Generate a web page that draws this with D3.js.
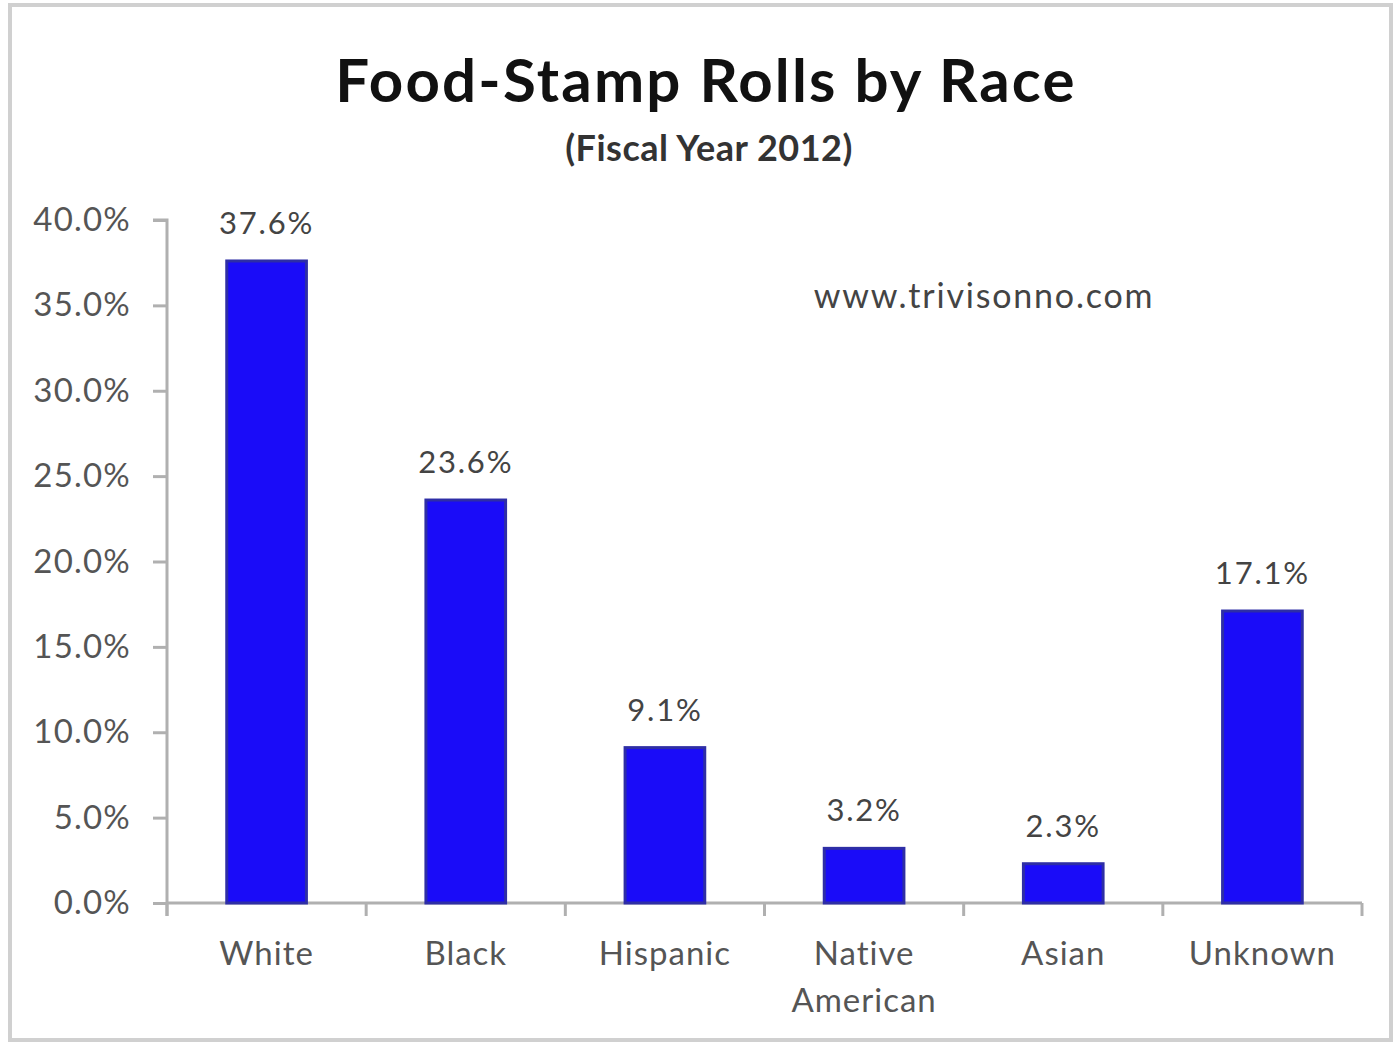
<!DOCTYPE html>
<html>
<head>
<meta charset="utf-8">
<script src="https://cdn.jsdelivr.net/npm/d3@7"></script>
<style>
  html, body { margin: 0; padding: 0; background: #fff; }
  svg { display: block; font-family: Lato, 'Open Sans', sans-serif; }
</style>
</head>
<body>
<div id="chart"></div>
<script>
const categories = ['White', 'Black', 'Hispanic', 'Native American', 'Asian', 'Unknown'];
const shares = [37.6, 23.6, 9.1, 3.2, 2.3, 17.1];
const yTicks = [0, 5, 10, 15, 20, 25, 30, 35, 40];

const width = 1395;
const height = 1043;
const margin = { top: 220, right: 33, bottom: 140, left: 167 };
const innerW = width - margin.left - margin.right;
const innerH = height - margin.top - margin.bottom;

const svg = d3.select('#chart')
  .append('svg')
  .attr('width', width)
  .attr('height', height);

// outer frame
svg.append('rect')
  .attr('x', 10).attr('y', 5)
  .attr('width', width - 14).attr('height', height - 8)
  .attr('fill', 'none')
  .attr('stroke', '#d0d0d0')
  .attr('stroke-width', 4);

// titles
svg.append('text')
  .attr('x', 706).attr('y', 102)
  .attr('text-anchor', 'middle')
  .attr('font-size', 60).attr('font-weight', 700)
  .attr('letter-spacing', 2.2)
  .attr('fill', '#111')
  .text('Food-Stamp Rolls by Race');

svg.append('text')
  .attr('x', 709).attr('y', 161)
  .attr('text-anchor', 'middle')
  .attr('font-size', 36).attr('font-weight', 700)
  .attr('letter-spacing', 0.5)
  .attr('fill', '#333')
  .text('(Fiscal Year 2012)');

const g = svg.append('g')
  .attr('transform', `translate(${margin.left},${margin.top})`);

const x = d3.scaleBand()
  .domain(categories)
  .range([0, innerW])
  .paddingInner(0.6)
  .paddingOuter(0.3);

const y = d3.scaleLinear()
  .domain([0, 40])
  .range([innerH, 0]);

// y axis
const yAxis = g.append('g')
  .call(d3.axisLeft(y)
    .tickValues(yTicks)
    .tickSize(14)
    .tickPadding(22)
    .tickFormat(d => d3.format('.1f')(d) + '%'));

// x axis with ticks at category boundaries
const boundaries = d3.range(categories.length + 1).map(i => i * innerW / categories.length);
const xAxis = g.append('g')
  .attr('transform', `translate(0,${innerH})`);
xAxis.append('line')
  .attr('x1', 0).attr('x2', innerW)
  .attr('stroke', '#b0b0b0').attr('stroke-width', 3);
xAxis.selectAll('.bt')
  .data(boundaries)
  .join('line')
  .attr('x1', d => d).attr('x2', d => d)
  .attr('y1', 0).attr('y2', 13)
  .attr('stroke', '#b0b0b0').attr('stroke-width', 3);

yAxis.select('.domain').attr('stroke', '#b0b0b0').attr('stroke-width', 3)
  .attr('d', `M-14,0H0V${innerH + 13}`);
yAxis.selectAll('.tick line').attr('stroke', '#b0b0b0').attr('stroke-width', 3);
yAxis.selectAll('.tick text')
  .attr('font-family', 'Lato, sans-serif')
  .attr('font-size', 33)
  .attr('letter-spacing', 1.2)
  .attr('fill', '#555');

// bars
g.append('g')
  .selectAll('rect')
  .data(shares)
  .join('rect')
  .attr('x', (d, i) => x(categories[i]))
  .attr('y', d => y(d))
  .attr('width', x.bandwidth())
  .attr('height', d => innerH - y(d))
  .attr('fill', '#1a0cf8')
  .attr('stroke', '#2e2ea6')
  .attr('stroke-width', 3);

// value labels
g.append('g')
  .selectAll('text')
  .data(shares)
  .join('text')
  .attr('x', (d, i) => x(categories[i]) + x.bandwidth() / 2)
  .attr('y', d => y(d) - 27)
  .attr('text-anchor', 'middle')
  .attr('font-size', 31)
  .attr('letter-spacing', 1.8)
  .attr('fill', '#444')
  .text(d => d3.format('.1f')(d) + '%');

// category labels
const catLabels = g.append('g')
  .selectAll('text')
  .data(categories)
  .join('text')
  .attr('x', d => x(d) + x.bandwidth() / 2)
  .attr('y', innerH + 62)
  .attr('text-anchor', 'middle')
  .attr('font-size', 33)
  .attr('letter-spacing', 1)
  .attr('fill', '#555');
catLabels.each(function (d) {
  const words = d.split(' ');
  const t = d3.select(this);
  words.forEach((w, i) => {
    t.append('tspan')
      .attr('x', t.attr('x'))
      .attr('dy', i === 0 ? 0 : 47)
      .text(w);
  });
});

// watermark
svg.append('text')
  .attr('x', 984).attr('y', 308)
  .attr('text-anchor', 'middle')
  .attr('font-size', 34)
  .attr('letter-spacing', 1.8)
  .attr('fill', '#444')
  .text('www.trivisonno.com');
</script>
</body>
</html>
